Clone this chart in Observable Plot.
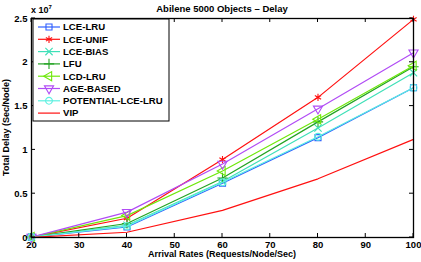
<!DOCTYPE html>
<html><head><meta charset="utf-8">
<script src="https://cdn.jsdelivr.net/npm/d3@7"></script>
<script src="https://cdn.jsdelivr.net/npm/@observablehq/plot@0.6"></script>
<style>
body{margin:0;background:#fff;}
#c{position:relative;width:421px;height:262px;font-family:"Liberation Sans",Arial,sans-serif;}
</style></head><body><div id="c"></div>
<script>
// Arrival rates (x)
const rates = [20, 40, 60, 80, 100];
// Total delay, in units of 1e7 Sec/Node
const lceLru   = [0.005, 0.12, 0.62, 1.14, 1.71];
const lceUnif  = [0.005, 0.22, 0.89, 1.60, 2.49];
const lceBias  = [0.005, 0.14, 0.64, 1.25, 1.88];
const lfu      = [0.005, 0.16, 0.68, 1.32, 1.95];
const lcdLru   = [0.005, 0.25, 0.76, 1.35, 1.96];
const ageBased = [0.005, 0.29, 0.84, 1.47, 2.11];
const potLce   = [0.005, 0.13, 0.63, 1.15, 1.71];
const vip      = [0.002, 0.06, 0.31, 0.67, 1.12];
const xTicks = [20, 30, 40, 50, 60, 70, 80, 90, 100];
const yTicks = [0, 0.5, 1, 1.5, 2, 2.5];
const yTickLabels = ["0", "0.5", "1", "1.5", "2", "2.5"];

const series = [
  {name: "LCE-LRU", values: lceLru, color: "#2f5fff", symbol: "square", rotate: 0},
  {name: "LCE-UNIF", values: lceUnif, color: "#ff1010", symbol: "asterisk", rotate: 0},
  {name: "LCE-BIAS", values: lceBias, color: "#3fe0b8", symbol: "times", rotate: 0},
  {name: "LFU", values: lfu, color: "#23a323", symbol: "plus", rotate: 0},
  {name: "LCD-LRU", values: lcdLru, color: "#6ee80a", symbol: "triangle", rotate: -90},
  {name: "AGE-BASED", values: ageBased, color: "#b14cf5", symbol: "triangle", rotate: 180},
  {name: "POTENTIAL-LCE-LRU", values: potLce, color: "#5cf0e0", symbol: "circle", rotate: 0},
  {name: "VIP", values: vip, color: "#ff1010", symbol: null, rotate: 0}
];
const rows = series.flatMap(s => s.values.map((v, i) => ({name: s.name, x: rates[i], y: v})));

const marks = [];
for (const s of series) {
  const d = rows.filter(r => r.name === s.name);
  marks.push(Plot.line(d, {x: "x", y: "y", stroke: s.color, strokeWidth: 1.2}));
  if (s.symbol) marks.push(Plot.dot(d, {x: "x", y: "y", stroke: s.color, symbol: s.symbol, r: 3.4, rotate: s.rotate, strokeWidth: 1.1, fill: "none"}));
}
marks.push(Plot.frame({stroke: "#000", strokeWidth: 1.3}));
marks.push(Plot.axisX({ticks: xTicks, tickSize: 0, tickPadding: 4, fontSize: 9.5, fontWeight: "bold", label: null}));
marks.push(Plot.axisY({ticks: yTicks, tickFormat: d => yTickLabels[yTicks.indexOf(d)], tickSize: 0, tickPadding: 4, fontSize: 9.5, fontWeight: "bold", label: null}));

const W = 421, H = 262;
const plot = Plot.plot({
  width: W, height: H,
  marginLeft: 31, marginRight: 8, marginTop: 18, marginBottom: 25,
  x: {domain: [20, 100]},
  y: {domain: [0, 2.5]},
  style: {fontFamily: "Liberation Sans, Arial, sans-serif", color: "#000", background: "#fff", overflow: "visible"},
  marks
});
document.getElementById("c").appendChild(plot);

const svg = d3.select(plot);
const xs = plot.scale("x"), ys = plot.scale("y");
const x0 = xs.range[0], x1 = xs.range[1], y0 = ys.range[0], y1 = ys.range[1];
const g = svg.append("g").attr("stroke", "#000").attr("stroke-width", 1);
for (const t of xTicks) {
  const px = xs.apply(t);
  g.append("line").attr("x1", px).attr("x2", px).attr("y1", y0).attr("y2", y0 - 4);
  g.append("line").attr("x1", px).attr("x2", px).attr("y1", y1).attr("y2", y1 + 4);
}
for (const t of yTicks) {
  const py = ys.apply(t);
  g.append("line").attr("x1", x0).attr("x2", x0 + 4).attr("y1", py).attr("y2", py);
  g.append("line").attr("x1", x1).attr("x2", x1 - 4).attr("y1", py).attr("y2", py);
}
const txt = (x, y, s, opts = {}) => svg.append("text").attr("x", x).attr("y", y).attr("font-size", opts.size || 9)
  .attr("font-weight", "bold").attr("text-anchor", opts.anchor || "middle").attr("fill", "#000")
  .attr("font-family", "Liberation Sans, Arial, sans-serif").text(s);
txt((x0 + x1) / 2, 12, "Abilene 5000 Objects \u2013 Delay", {size: 9.5});
txt((x0 + x1) / 2, 257, "Arrival Rates (Requests/Node/Sec)");
txt(0, 0, "Total Delay (Sec/Node)").attr("transform", `translate(9,${(y0 + y1) / 2}) rotate(-90)`);
const e = txt(31, 13, "x 10", {anchor: "start"});
e.append("tspan").attr("font-size", 6).attr("dy", -4).text("7");

// legend
const lg = svg.append("g");
const lx = 33, ly = 19, lw = 136, lh = 102;
lg.append("rect").attr("x", lx).attr("y", ly).attr("width", lw).attr("height", lh).attr("fill", "#fff").attr("stroke", "#000").attr("stroke-width", 1);
series.forEach((s, i) => {
  const cy = ly + 8 + i * 12.3;
  lg.append("line").attr("x1", lx + 5).attr("x2", lx + 27).attr("y1", cy).attr("y2", cy).attr("stroke", s.color).attr("stroke-width", 1.2);
  if (s.symbol) {
    const sym = {square: d3.symbolSquare, asterisk: d3.symbolAsterisk, times: d3.symbolTimes, plus: d3.symbolPlus, triangle: d3.symbolTriangle, circle: d3.symbolCircle}[s.symbol];
    lg.append("path").attr("d", d3.symbol(sym, 3.4 * 3.4 * Math.PI)()).attr("transform", `translate(${lx + 16},${cy}) rotate(${s.rotate})`)
      .attr("fill", "none").attr("stroke", s.color).attr("stroke-width", 1.1);
  }
  lg.append("text").attr("x", lx + 30).attr("y", cy).attr("dy", "0.35em").attr("font-size", 9.6).attr("font-weight", "bold")
    .attr("text-anchor", "start").attr("fill", "#000")
    .attr("font-family", "Liberation Sans, Arial, sans-serif").text(s.name);
});
</script></body></html>
